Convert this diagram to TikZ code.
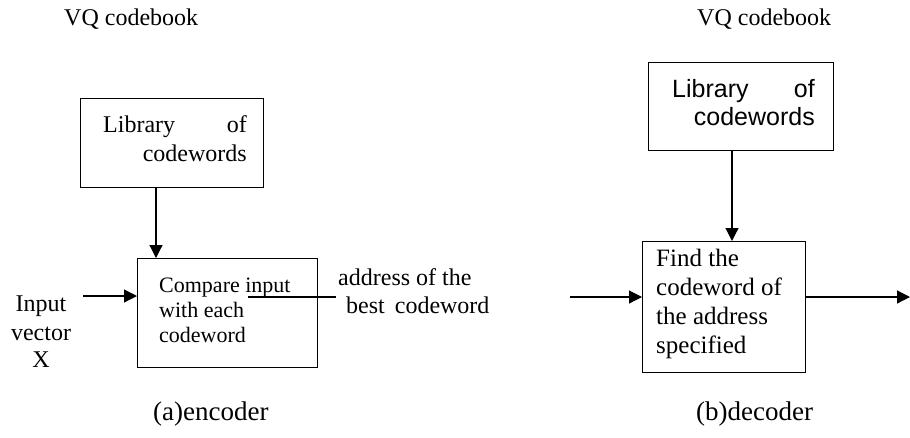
\documentclass[tikz,border=0pt]{standalone}
\usepackage{fontspec}
\setmainfont{Liberation Serif}
\setsansfont{Liberation Sans}
\usetikzlibrary{arrows.meta}
\begin{document}
\begin{tikzpicture}[x=1pt,y=-1pt,
  box/.style={draw, line width=1.3pt, anchor=north west, inner sep=0pt},
  txt/.style={anchor=base west, inner sep=0pt, font=\fontsize{24}{28}\selectfont},
  rtxt/.style={txt, anchor=base east},
  ctxt/.style={txt, anchor=base},
  stxt/.style={anchor=base west, inner sep=0pt, font=\sffamily\fontsize{25}{29}\selectfont},
  srtxt/.style={stxt, anchor=base east},
  cmptxt/.style={anchor=base west, inner sep=0pt, font=\fontsize{22}{25}\selectfont},
  captxt/.style={anchor=base west, inner sep=0pt, font=\fontsize{27}{30}\selectfont},
  arr/.style={-{Triangle[length=13pt,width=13pt]}, line width=1.2pt},
  thin/.style={line width=1.1pt}]
\useasboundingbox (0,0) rectangle (910,437);
\fill[white] (0,0) rectangle (910,437);

% ---- encoder ----
\node[txt] (vq1) at (64,25) {VQ codebook};
\node[box, minimum width=183pt, minimum height=89pt] (lib1) at (80,98) {};
\node[txt] (lib1a) at (103,132) {Library};
\node[rtxt] (lib1b) at (247,132) {of};
\node[rtxt] (lib1c) at (247,161) {codewords};

\node[box, minimum width=180pt, minimum height=109pt] (cmp) at (137,258) {};
\node[cmptxt] (cmpa) at (159,292) {Compare input};
\node[cmptxt] (cmpb) at (159,317) {with each};
\node[cmptxt] (cmpc) at (159,342) {codeword};

\node[txt] (adr1) at (338,285) {address of the};
\node[txt] (adr2) at (346,313) {best\, codeword};

\node[ctxt] (inp1) at (41,311) {Input};
\node[ctxt] (inp2) at (41,340) {vector};
\node[ctxt] (inp3) at (41,367) {X};

\coordinate (a1) at (156,0);
\draw[arr] (lib1.south -| a1) -- (cmp.north -| a1);
\coordinate (in1) at (83,296);
\draw[arr] (in1) -- (in1 -| cmp.west);
\coordinate (u1) at (248,297);
\coordinate (u2) at (336,297);
\draw[thin] (u1) -- (u2);

\node[captxt] (capa) at (153,420) {(a)encoder};

% ---- decoder ----
\node[txt] (vq2) at (697,25) {VQ codebook};
\node[box, minimum width=185pt, minimum height=88pt] (lib2) at (648,62) {};
\node[stxt] (lib2a) at (672,97) {Library};
\node[srtxt] (lib2b) at (815,97) {of};
\node[srtxt] (lib2c) at (815,125) {codewords};

\node[box, minimum width=163pt, minimum height=131pt] (find) at (642,241) {};
\node[txt, font=\fontsize{25}{29}\selectfont] (finda) at (656,266) {Find the};
\node[txt, font=\fontsize{25}{29}\selectfont] (findb) at (656,295) {codeword of};
\node[txt, font=\fontsize{25}{29}\selectfont] (findc) at (656,324) {the address};
\node[txt, font=\fontsize{25}{29}\selectfont] (findd) at (656,353) {specified};

\coordinate (a2) at (732,0);
\draw[arr] (lib2.south -| a2) -- (find.north -| a2);
\coordinate (in2) at (570,297);
\draw[arr] (in2) -- (in2 -| find.west);
\coordinate (out2) at (910,297);
\draw[arr] (find.east |- out2) -- (out2);

\node[captxt] (capb) at (696,420) {(b)decoder};
\end{tikzpicture}
\end{document}
